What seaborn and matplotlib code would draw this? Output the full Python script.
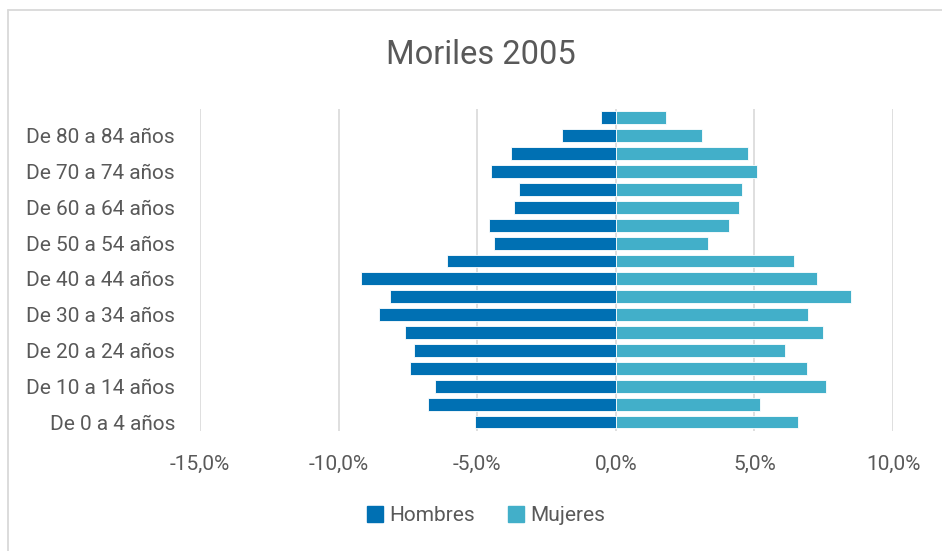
import numpy as np
import pandas as pd
import seaborn as sns
import matplotlib.pyplot as plt
from matplotlib.lines import Line2D
from matplotlib.ticker import FuncFormatter

# Grupos de edad (de menor a mayor)
edades = ["De 0 a 4 años", "De 5 a 9 años", "De 10 a 14 años", "De 15 a 19 años",
          "De 20 a 24 años", "De 25 a 29 años", "De 30 a 34 años", "De 35 a 39 años",
          "De 40 a 44 años", "De 45 a 49 años", "De 50 a 54 años", "De 55 a 59 años",
          "De 60 a 64 años", "De 65 a 69 años", "De 70 a 74 años", "De 75 a 79 años",
          "De 80 a 84 años", "De 85 y más años"]

# Porcentajes (hombres en negativo)
hombres = [-5.07, -6.77, -6.51, -7.43, -7.29, -7.59, -8.53, -8.15, -9.20,
           -6.10, -4.41, -4.56, -3.68, -3.48, -4.51, -3.79, -1.94, -0.54]
mujeres = [6.58, 5.19, 7.57, 6.90, 6.12, 7.46, 6.94, 8.48, 7.26,
           6.43, 3.32, 4.10, 4.46, 4.57, 5.08, 4.77, 3.12, 1.81]

sexos = ["Hombres", "Mujeres"]
colores = ["#0070B3", "#42AFC9"]
gris = "#595959"

df = pd.DataFrame({
    "edad": edades * 2,
    "valor": hombres + mujeres,
    "sexo": ["Hombres"] * len(edades) + ["Mujeres"] * len(edades),
})

sns.set_theme(style="white")
plt.rcParams["font.family"] = ["Roboto", "DejaVu Sans"]

fig = plt.figure(figsize=(9.42, 5.51), dpi=100)
ax = fig.add_axes([0.2123, 0.2178, 0.7357, 0.5847])

orden = edades[::-1]
sns.barplot(data=df, x="valor", y="edad", hue="sexo", order=orden, hue_order=sexos,
            palette=colores, saturation=1, dodge=False, width=0.72, orient="h", ax=ax,
            edgecolor="white", linewidth=0.6, legend=False)

ax.set_xlim(-15, 10)
ax.set_xticks(np.arange(-15, 10.1, 5))
ax.xaxis.set_major_formatter(FuncFormatter(lambda v, p: f"{v:.1f}%".replace(".", ",")))
ax.set_ylim(len(edades) - 0.5, -0.5)

# solo una etiqueta de cada dos
ax.set_yticks(range(len(orden)))
ax.set_yticklabels([e if i % 2 == 1 else "" for i, e in enumerate(orden)])

ax.grid(axis="x", color="#D9D9D9", linewidth=1.2)
ax.set_axisbelow(True)
for s in ax.spines.values():
    s.set_visible(False)
ax.tick_params(axis="both", length=0, colors=gris, labelsize=15)
ax.tick_params(axis="x", pad=17)
ax.tick_params(axis="y", pad=18)
ax.set_xlabel("")
ax.set_ylabel("")

fig.text(0.511, 0.9, "Moriles 2005", ha="center", va="center", fontsize=23.5, color=gris)

handles = [Line2D([], [], marker="s", linestyle="", markersize=12, color=c) for c in colores]
fig.legend(handles, sexos, loc="center", bbox_to_anchor=(0.516, 0.064), ncol=2, frameon=False,
           fontsize=15, labelcolor=gris, handlelength=0.8, handletextpad=0.3,
           columnspacing=1.55)

# borde del gráfico
fig.add_artist(Line2D([0.0085, 0.0085], [0, 0.982], color="#D9D9D9", linewidth=1.3,
                      transform=fig.transFigure))
fig.add_artist(Line2D([0.0085, 1], [0.982, 0.982], color="#D9D9D9", linewidth=1.3,
                      transform=fig.transFigure))

fig.savefig("out.png", dpi=100)
